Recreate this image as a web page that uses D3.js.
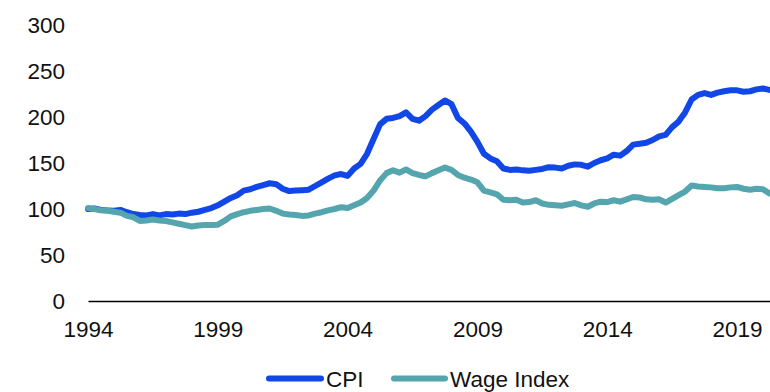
<!DOCTYPE html>
<html>
<head>
<meta charset="utf-8">
<script src="https://cdn.jsdelivr.net/npm/d3@7"></script>
<style>
  html, body { margin: 0; padding: 0; background: #fff; }
  svg { display: block; font-family: "Liberation Sans", Arial, sans-serif; }
</style>
</head>
<body>
<svg id="chart" width="770" height="392"></svg>
<script>
// Quarterly observations, 1994 Q1 through 2020 Q2 (index, 1994 = 100)
const startYear = 1994;
const step = 0.25;

const cpi = [
  100, 100.5, 99, 98.5, 98, 99, 96.5, 94.5,
  93.5, 93, 94.5, 93, 94.5, 94, 95, 94.5,
  96, 97, 99, 101, 104, 108, 112, 115,
  120, 121.5, 124, 126, 128, 127, 122, 119.5,
  120, 120.5, 121, 125, 129, 133, 136.5, 138,
  136, 144, 149, 160, 176, 192, 198, 199,
  201, 205, 198, 196, 201, 208, 213, 218,
  214, 199, 193, 184, 173, 160, 155, 152,
  144, 142.5, 143, 142, 141.5, 142.5, 143.5, 145.5,
  145, 144, 147, 148.5, 148, 146, 150, 153,
  155, 159, 158, 163, 170, 171, 172, 175,
  179, 180.5, 189, 195, 205, 219, 224, 226,
  224, 226.5, 228, 229, 229, 227.5, 228, 230,
  231, 229.5
];

const wage = [
  101, 100, 98.5, 98, 97, 96, 92.5, 91,
  87, 87.5, 88.5, 87.5, 87, 85.5, 84, 82.5,
  81, 82, 82.5, 82.5, 83, 87, 92, 94.5,
  96.5, 98, 99, 100, 100.5, 98, 95, 94,
  93.5, 92.5, 93, 95, 96.5, 98.5, 100, 102,
  101, 104, 107, 112, 120, 131, 139, 142,
  139.5, 143, 139, 137, 135.5, 139, 142, 145,
  142.5, 137, 134, 132, 129, 120, 118, 116,
  110, 109.5, 110, 107, 107.5, 109.5, 106, 104.5,
  104, 103.5, 105, 106.5, 104, 102.5, 106, 108,
  107.5, 109.5, 108, 110.5, 113, 112.5, 110.5, 110,
  110.5, 107, 111, 115, 119, 125.5, 124.5, 124,
  123.5, 122.5, 122.5, 123.5, 124, 122, 121, 122,
  121.5, 117
];

const yTicks = [0, 50, 100, 150, 200, 250, 300];
const xTicks = [1994, 1999, 2004, 2009, 2014, 2019];

const seriesNames = ["CPI", "Wage Index"];
const seriesColors = ["#1147e6", "#55a5ae"];

const svg = d3.select("#chart");
const fontSize = 22.5;

const x = d3.scaleLinear().domain([1994, 2020.27]).range([88, 770]);
const y = d3.scaleLinear().domain([0, 300]).range([301, 25]);

// Y axis: labels only
svg.append("g")
  .attr("transform", `translate(88,0)`)
  .call(d3.axisLeft(y).tickValues(yTicks).tickSize(0).tickPadding(23))
  .call(g => g.select(".domain").remove())
  .call(g => g.selectAll("text")
    .attr("fill", "#111")
    .attr("font-size", fontSize)
    .attr("font-family", "Liberation Sans, Arial, sans-serif"));

// X axis: baseline and year labels
svg.append("g")
  .attr("transform", `translate(0,${y(0)})`)
  .call(d3.axisBottom(x).tickValues(xTicks).tickFormat(d3.format("d")).tickSize(0).tickPadding(20))
  .call(g => g.select(".domain").attr("stroke", "#000").attr("stroke-width", 1.6))
  .call(g => g.selectAll("text")
    .attr("fill", "#111")
    .attr("font-size", fontSize)
    .attr("font-family", "Liberation Sans, Arial, sans-serif"));

const line = d3.line()
  .x((d, i) => x(startYear + i * step))
  .y(d => y(d));

// CPI first, wage drawn over it
[[cpi, 0], [wage, 1]].forEach(([vals, k]) => {
  svg.append("path")
    .datum(vals)
    .attr("fill", "none")
    .attr("stroke", seriesColors[k])
    .attr("stroke-width", 6)
    .attr("stroke-linejoin", "round")
    .attr("stroke-linecap", "round")
    .attr("d", line);
});

// Legend
const legendItems = [
  { name: seriesNames[0], color: seriesColors[0], x0: 269, x1: 321, tx: 326 },
  { name: seriesNames[1], color: seriesColors[1], x0: 394, x1: 445, tx: 450 }
];
const legendY = 378.5;
const lg = svg.append("g");
legendItems.forEach(it => {
  lg.append("line")
    .attr("x1", it.x0).attr("x2", it.x1)
    .attr("y1", legendY).attr("y2", legendY)
    .attr("stroke", it.color)
    .attr("stroke-width", 6)
    .attr("stroke-linecap", "round");
  lg.append("text")
    .attr("x", it.tx)
    .attr("y", legendY)
    .attr("dy", "0.36em")
    .attr("fill", "#111")
    .attr("font-size", fontSize)
    .text(it.name);
});
</script>
</body>
</html>
